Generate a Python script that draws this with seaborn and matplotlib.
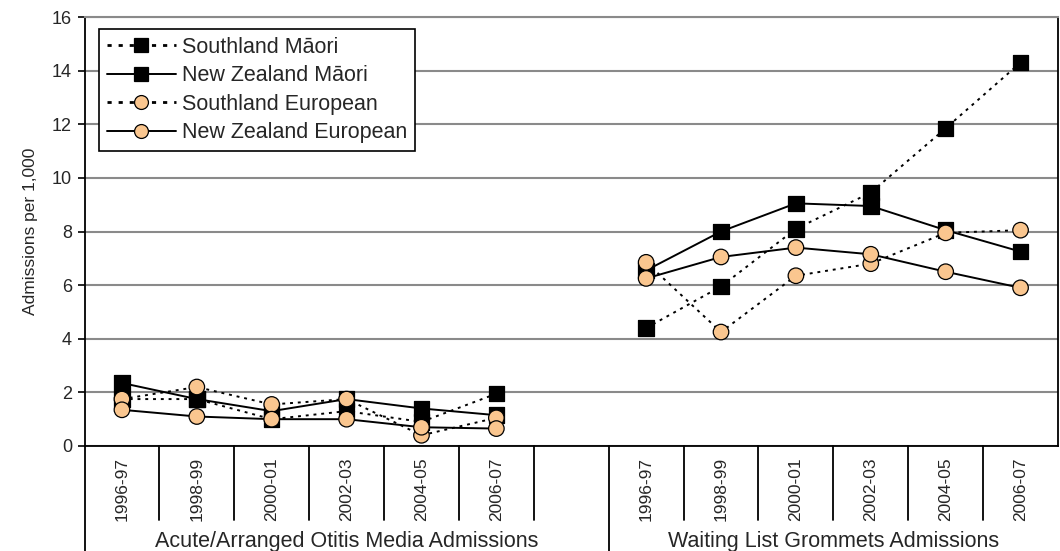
import pandas as pd
import matplotlib.pyplot as plt
import seaborn as sns
from matplotlib.lines import Line2D
import matplotlib.transforms as mtransforms


PERIODS = ["1996-97", "1998-99", "2000-01", "2002-03", "2004-05", "2006-07"]
GROUPS = ["Acute/Arranged Otitis Media Admissions", "Waiting List Grommets Admissions"]
SERIES = ["Southland Māori", "New Zealand Māori", "Southland European", "New Zealand European"]

# admissions per 1,000 -- first 6 = otitis media, last 6 = grommets
SOUTHLAND_MAORI = [1.75, 1.75, 1.0, 1.3, 0.9, 1.95,
                   4.4, 5.95, 8.1, 9.45, 11.85, 14.3]
NZ_MAORI = [2.35, 1.75, 1.3, 1.75, 1.4, 1.15,
            6.55, 8.0, 9.05, 8.95, 8.05, 7.25]
SOUTHLAND_EUROPEAN = [1.75, 2.2, 1.55, 1.75, 0.4, 1.05,
                      6.85, 4.25, 6.35, 6.8, 7.95, 8.05]
NZ_EUROPEAN = [1.35, 1.1, 1.0, 1.0, 0.7, 0.65,
               6.25, 7.05, 7.4, 7.15, 6.5, 5.9]

ORANGE = "#FAC68F"
FACES = {
    "Southland Māori": "black",
    "New Zealand Māori": "black",
    "Southland European": ORANGE,
    "New Zealand European": ORANGE,
}
MARKERS = {
    "Southland Māori": "s",
    "New Zealand Māori": "s",
    "Southland European": "o",
    "New Zealand European": "o",
}
DOTS = (1.5, 2.5)
DASHES = {
    "Southland Māori": DOTS,
    "New Zealand Māori": "",
    "Southland European": DOTS,
    "New Zealand European": "",
}

sns.set_theme(style="white")
plt.rcParams["font.family"] = ["Liberation Sans", "DejaVu Sans"]

# long table; one empty category between the two groups
rows = []
for nome, valores in zip(SERIES, [SOUTHLAND_MAORI, NZ_MAORI, SOUTHLAND_EUROPEAN, NZ_EUROPEAN]):
    for i, v in enumerate(valores):
        g = i // len(PERIODS)
        p = i % len(PERIODS)
        rows.append({"serie": nome, "grupo": g, "pos": g * (len(PERIODS) + 1) + p, "valor": v})
df = pd.DataFrame(rows)

fig = plt.figure(figsize=(10.6, 5.51), dpi=100)
ax = fig.add_axes([84.5 / 1060, 105 / 551, (1058 - 84.5) / 1060, 429 / 551])

sns.lineplot(data=df, x="pos", y="valor", hue="serie", style="serie", units="grupo",
             estimator=None, palette={s: "black" for s in SERIES}, dashes=DASHES,
             linewidth=1.4, legend=False, ax=ax, zorder=2)
sns.scatterplot(data=df, x="pos", y="valor", hue="serie", style="serie",
                palette=FACES, markers=MARKERS, s=125, edgecolor="black",
                linewidth=0.9, legend=False, ax=ax, zorder=3)

n_cat = 2 * len(PERIODS) + 1
ax.set_xlim(-0.5, n_cat - 0.5)
ax.set_ylim(0, 16)
ax.set_yticks(range(0, 17, 2))
ax.set_ylabel("Admissions per 1,000", fontsize=12.5, labelpad=10)
ax.set_xlabel("")

ax.grid(True, axis="y", color="#8a8a8a", linewidth=1.5)
ax.set_axisbelow(True)
for lado in ["left", "bottom", "right"]:
    ax.spines[lado].set_color("black")
    ax.spines[lado].set_linewidth(1.3)
ax.spines["top"].set_color("#8a8a8a")
ax.spines["top"].set_linewidth(1.5)

pos_ticks = [g * (len(PERIODS) + 1) + p for g in range(2) for p in range(len(PERIODS))]
ax.set_xticks(pos_ticks)
ax.set_xticklabels(PERIODS * 2, rotation=90, fontsize=12.5)
ax.tick_params(axis="x", length=0, pad=8)
ax.tick_params(axis="y", left=True, length=5, width=1.2, color="black", labelsize=13, pad=4)

# category table under the axis
trans = mtransforms.blended_transform_factory(ax.transData, ax.transAxes)
for k in range(n_cat):
    b = k - 0.5
    fundo = -0.245 if k in (0, len(PERIODS) + 1) else -0.1725
    ax.plot([b, b], [0, fundo], color="black", linewidth=1.3, transform=trans, clip_on=False)
for g, nome in enumerate(GROUPS):
    inicio = g * (len(PERIODS) + 1) - 0.5
    fim = n_cat - 0.5 if g == 1 else len(PERIODS) + 0.5
    ax.text((inicio + fim) / 2, -0.222, nome, transform=trans, ha="center", va="center",
            fontsize=15.5)

handles = []
for nome in SERIES:
    ls = (0, DOTS) if DASHES[nome] else "-"
    handles.append(Line2D([0], [0], color="black", linestyle=ls, linewidth=1.4 if ls == "-" else 2,
                          marker=MARKERS[nome], markersize=10, markerfacecolor=FACES[nome],
                          markeredgecolor="black", markeredgewidth=0.9))
leg = ax.legend(handles, SERIES, loc="upper left", bbox_to_anchor=(0.0154, 0.972),
                borderaxespad=0, fontsize=15.5, frameon=True, fancybox=False,
                edgecolor="black", handlelength=3.2, handletextpad=0.3,
                labelspacing=0.35, borderpad=0.35, framealpha=1)
leg.get_frame().set_linewidth(1.2)

fig.savefig("out.png", dpi=100)
